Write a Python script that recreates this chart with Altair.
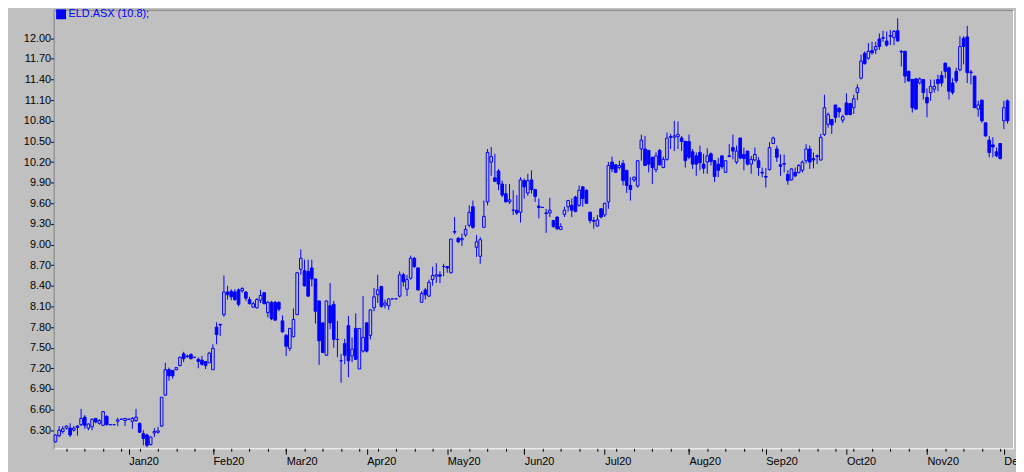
import altair as alt
import pandas as pd

series_name = "ELD.ASX (10.8);"

opens = [
    6.13, 6.22, 6.28, 6.33, 6.33, 6.30, 6.36, 6.38, 6.49, 6.33,
    6.35, 6.47, 6.40, 6.37, 6.50, 6.38, 6.38, 6.43, 6.46, 6.44,
    6.46, 6.43, 6.44, 6.40, 6.25, 6.23, 6.09, 6.26, 6.27, 6.36,
    6.81, 7.18, 7.17, 7.18, 7.24, 7.41, 7.37, 7.40, 7.36, 7.33,
    7.32, 7.30, 7.28, 7.18, 7.80, 7.84, 7.98, 8.31, 8.32, 8.31,
    8.34, 8.33, 8.31, 8.20, 8.09, 8.08, 8.19, 8.30, 8.01, 8.16,
    8.16, 8.16, 7.89, 7.68, 7.49, 7.66, 7.98, 8.64, 8.62, 8.61,
    8.66, 8.50, 8.18, 7.86, 7.39, 8.11, 8.13, 7.62, 7.31, 7.56,
    7.82, 7.38, 7.78, 7.19, 7.45, 7.86, 7.68, 8.08, 8.27, 8.39,
    8.12, 8.11, 8.21, 8.21, 8.25, 8.56, 8.35, 8.51, 8.80, 8.66,
    8.16, 8.34, 8.25, 8.49, 8.54, 8.56, 8.68, 8.68, 8.59, 9.18,
    9.09, 9.07, 9.14, 9.28, 9.55, 8.96, 8.83, 9.25, 9.62, 10.20,
    9.97, 10.07, 9.88, 9.74, 9.62, 9.50, 9.50, 9.47, 9.93, 9.75,
    9.94, 9.80, 9.56, 9.54, 9.46, 9.46, 9.35, 9.40, 9.22, 9.44,
    9.55, 9.57, 9.69, 9.57, 9.84, 9.79, 9.47, 9.35, 9.27, 9.52,
    9.43, 9.62, 10.20, 10.16, 10.12, 10.18, 10.08, 9.86, 9.94, 9.85,
    10.39, 10.39, 10.37, 10.27, 10.09, 10.37, 10.12, 10.24, 10.57, 10.56,
    10.57, 10.55, 10.50, 10.50, 10.35, 10.29, 10.34, 10.17, 10.20, 10.32,
    10.22, 10.17, 10.29, 10.05, 10.29, 10.41, 10.20, 10.55, 10.31, 10.36,
    10.17, 10.23, 10.22, 10.05, 9.99, 10.09, 10.47, 10.39, 10.16, 10.18,
    10.02, 9.94, 10.05, 10.05, 10.08, 10.22, 10.39, 10.25, 10.29, 10.23,
    10.60, 10.75, 10.82, 11.03, 10.98, 10.81, 11.06, 11.05, 10.99, 11.21,
    11.42, 11.78, 11.71, 11.82, 11.83, 11.99, 12.00, 11.96, 12.04, 12.01,
    12.11, 11.81, 11.81, 11.52, 11.40, 11.41, 11.35, 11.40, 11.14, 11.21,
    11.26, 11.40, 11.46, 11.64, 11.57, 11.35, 11.52, 11.54, 12.00, 12.02,
    11.51, 11.45, 10.97, 11.10, 10.77, 10.52, 10.45, 10.35, 10.47, 10.80,
    11.09,
]

highs = [
    6.24, 6.36, 6.36, 6.37, 6.40, 6.36, 6.37, 6.61, 6.52, 6.40,
    6.47, 6.48, 6.46, 6.58, 6.52, 6.38, 6.38, 6.48, 6.46, 6.48,
    6.46, 6.49, 6.61, 6.41, 6.30, 6.25, 6.21, 6.33, 6.35, 6.78,
    7.28, 7.21, 7.17, 7.22, 7.37, 7.44, 7.40, 7.42, 7.36, 7.36,
    7.38, 7.30, 7.44, 7.55, 7.87, 7.84, 8.55, 8.40, 8.35, 8.35,
    8.36, 8.38, 8.32, 8.24, 8.17, 8.22, 8.34, 8.31, 8.18, 8.18,
    8.18, 8.17, 7.97, 7.70, 7.79, 8.07, 8.60, 8.93, 8.78, 8.78,
    8.78, 8.50, 8.18, 7.87, 8.18, 8.44, 8.18, 7.89, 7.41, 7.63,
    7.96, 7.65, 8.00, 7.78, 8.25, 7.87, 8.05, 8.37, 8.56, 8.40,
    8.20, 8.22, 8.21, 8.21, 8.61, 8.59, 8.56, 8.84, 8.82, 8.67,
    8.32, 8.37, 8.49, 8.68, 8.73, 8.61, 8.72, 8.68, 9.08, 9.40,
    9.11, 9.16, 9.28, 9.57, 9.64, 9.14, 9.11, 9.64, 10.39, 10.42,
    10.32, 10.10, 9.93, 9.88, 9.88, 9.79, 9.72, 9.98, 9.96, 10.03,
    10.08, 9.81, 9.67, 9.54, 9.52, 9.68, 9.36, 9.41, 9.31, 9.55,
    9.65, 9.67, 9.71, 9.86, 9.84, 9.80, 9.48, 9.40, 9.43, 9.53,
    9.61, 10.20, 10.28, 10.17, 10.22, 10.23, 10.08, 9.98, 9.99, 10.22,
    10.60, 10.58, 10.37, 10.27, 10.34, 10.39, 10.28, 10.63, 10.61, 10.80,
    10.79, 10.58, 10.51, 10.60, 10.39, 10.34, 10.44, 10.32, 10.40, 10.34,
    10.23, 10.26, 10.29, 10.22, 10.46, 10.60, 10.44, 10.55, 10.41, 10.36,
    10.29, 10.41, 10.27, 10.12, 10.11, 10.49, 10.57, 10.44, 10.31, 10.31,
    10.08, 10.11, 10.12, 10.17, 10.22, 10.46, 10.44, 10.34, 10.31, 10.61,
    11.18, 10.92, 10.82, 11.03, 11.00, 10.89, 11.20, 11.06, 11.18, 11.33,
    11.76, 11.81, 11.93, 11.95, 11.95, 12.07, 12.11, 12.10, 12.12, 12.12,
    12.29, 11.83, 11.82, 11.53, 11.41, 11.42, 11.43, 11.40, 11.27, 11.40,
    11.40, 11.47, 11.52, 11.64, 11.59, 11.42, 11.57, 12.03, 12.03, 12.18,
    11.54, 11.45, 11.09, 11.11, 10.78, 10.58, 10.56, 10.41, 10.47, 11.09,
    11.11,
]

lows = [
    6.12, 6.20, 6.25, 6.31, 6.20, 6.28, 6.22, 6.36, 6.32, 6.30,
    6.30, 6.40, 6.38, 6.36, 6.37, 6.38, 6.38, 6.36, 6.46, 6.36,
    6.46, 6.32, 6.42, 6.26, 6.08, 6.05, 6.08, 6.20, 6.25, 6.35,
    6.80, 7.02, 7.05, 7.17, 7.23, 7.29, 7.35, 7.33, 7.36, 7.20,
    7.24, 7.19, 7.28, 7.18, 7.55, 7.67, 7.95, 8.20, 8.19, 8.18,
    8.10, 8.30, 8.18, 8.13, 8.08, 8.07, 8.15, 8.13, 7.94, 7.90,
    7.90, 8.03, 7.72, 7.38, 7.45, 7.65, 7.98, 8.56, 8.39, 8.24,
    8.39, 7.85, 7.25, 7.42, 7.38, 7.77, 7.50, 7.36, 6.99, 7.26,
    7.07, 7.29, 7.33, 7.19, 7.43, 7.43, 7.62, 8.03, 8.15, 8.08,
    8.07, 8.05, 8.21, 8.21, 8.23, 8.39, 8.25, 8.49, 8.66, 8.33,
    8.15, 8.20, 8.24, 8.40, 8.44, 8.44, 8.54, 8.59, 8.58, 9.15,
    9.02, 8.98, 9.11, 9.25, 9.23, 8.82, 8.72, 9.25, 9.57, 10.00,
    9.91, 9.79, 9.69, 9.62, 9.59, 9.43, 9.43, 9.32, 9.67, 9.71,
    9.74, 9.62, 9.38, 9.54, 9.17, 9.40, 9.25, 9.21, 9.21, 9.40,
    9.48, 9.40, 9.47, 9.55, 9.55, 9.59, 9.31, 9.23, 9.26, 9.38,
    9.40, 9.52, 10.05, 10.04, 10.09, 9.86, 9.75, 9.64, 9.91, 9.83,
    10.22, 10.15, 10.05, 9.88, 10.05, 10.15, 10.11, 10.22, 10.39, 10.36,
    10.39, 10.36, 10.12, 10.24, 10.10, 10.00, 10.08, 10.03, 10.03, 10.15,
    9.91, 9.98, 10.10, 10.05, 10.27, 10.24, 10.17, 10.24, 10.08, 10.15,
    10.03, 10.21, 10.00, 9.98, 9.83, 10.08, 10.46, 10.20, 10.00, 10.05,
    9.87, 9.93, 9.98, 10.03, 10.05, 10.18, 10.10, 10.11, 10.17, 10.22,
    10.58, 10.70, 10.61, 10.77, 10.85, 10.77, 10.88, 10.89, 10.90, 11.10,
    11.40, 11.62, 11.69, 11.76, 11.77, 11.83, 11.95, 11.88, 11.90, 11.90,
    11.96, 11.59, 11.35, 11.37, 10.92, 10.96, 11.33, 11.11, 10.85, 11.09,
    11.21, 11.23, 11.30, 11.42, 11.11, 11.18, 11.35, 11.52, 11.62, 11.35,
    11.33, 10.99, 10.86, 10.77, 10.57, 10.27, 10.27, 10.27, 10.24, 10.68,
    10.76,
]

closes = [
    6.23, 6.30, 6.32, 6.36, 6.23, 6.33, 6.34, 6.47, 6.37, 6.39,
    6.46, 6.42, 6.44, 6.57, 6.38, 6.38, 6.38, 6.45, 6.46, 6.47,
    6.46, 6.47, 6.49, 6.27, 6.18, 6.08, 6.20, 6.28, 6.29, 6.78,
    7.18, 7.09, 7.09, 7.21, 7.36, 7.34, 7.38, 7.34, 7.36, 7.30,
    7.26, 7.24, 7.42, 7.49, 7.69, 7.83, 8.31, 8.27, 8.24, 8.20,
    8.13, 8.36, 8.22, 8.14, 8.14, 8.20, 8.26, 8.14, 8.16, 7.92,
    7.90, 8.06, 7.73, 7.52, 7.78, 7.91, 8.59, 8.80, 8.40, 8.25,
    8.50, 8.03, 7.60, 7.43, 8.18, 7.86, 7.62, 7.62, 7.31, 7.39,
    7.31, 7.48, 7.33, 7.78, 7.65, 7.45, 8.05, 8.24, 8.34, 8.10,
    8.15, 8.21, 8.21, 8.21, 8.56, 8.46, 8.49, 8.80, 8.68, 8.34,
    8.29, 8.27, 8.45, 8.55, 8.56, 8.54, 8.68, 8.66, 9.08, 9.19,
    9.04, 9.09, 9.22, 9.47, 9.25, 9.04, 9.07, 9.41, 10.34, 10.28,
    9.92, 9.88, 9.72, 9.62, 9.65, 9.50, 9.46, 9.94, 9.84, 9.93,
    9.80, 9.70, 9.54, 9.54, 9.45, 9.50, 9.26, 9.23, 9.26, 9.50,
    9.64, 9.50, 9.48, 9.79, 9.67, 9.60, 9.35, 9.34, 9.36, 9.40,
    9.60, 10.15, 10.10, 10.05, 10.15, 9.93, 9.86, 9.80, 9.98, 10.22,
    10.52, 10.15, 10.17, 10.12, 10.29, 10.16, 10.24, 10.55, 10.56, 10.58,
    10.60, 10.50, 10.22, 10.27, 10.17, 10.17, 10.19, 10.11, 10.29, 10.21,
    9.99, 10.08, 10.13, 10.22, 10.28, 10.36, 10.36, 10.26, 10.25, 10.17,
    10.24, 10.31, 10.12, 10.04, 9.98, 10.41, 10.55, 10.27, 10.14, 10.17,
    9.93, 10.10, 10.00, 10.15, 10.20, 10.39, 10.20, 10.23, 10.28, 10.56,
    10.99, 10.89, 10.74, 10.85, 10.93, 10.86, 10.89, 10.89, 11.12, 11.28,
    11.67, 11.63, 11.81, 11.79, 11.88, 11.88, 12.01, 11.90, 12.03, 12.10,
    11.96, 11.80, 11.45, 11.38, 10.99, 10.97, 11.41, 11.21, 11.06, 11.30,
    11.30, 11.34, 11.35, 11.52, 11.23, 11.21, 11.38, 11.88, 11.88, 11.50,
    11.50, 10.99, 11.03, 10.80, 10.58, 10.34, 10.42, 10.29, 10.25, 10.99,
    10.80,
]

y_ticks = [6.30, 6.60, 6.90, 7.20, 7.50, 7.80, 8.10, 8.40, 8.70, 9.00,
           9.30, 9.60, 9.90, 10.20, 10.50, 10.80, 11.10, 11.40, 11.70, 12.00]

# trading-day axis: every weekday (holidays shown as flat candles)
dates = pd.bdate_range("2019-12-04", periods=len(closes))
n = len(closes)

df = pd.DataFrame({
    "idx": list(range(n)),
    "date": dates.strftime("%Y-%m-%d"),
    "open": opens, "high": highs, "low": lows, "close": closes,
    "series": series_name,
})

month_idx = [i for i in range(1, n) if dates[i].month != dates[i - 1].month]
month_labels = [dates[i].strftime("%b%y") for i in month_idx]
monday_idx = [i for i in range(n) if dates[i].weekday() == 0]

label_expr = "[{}][indexof([{}], datum.value)]".format(
    ",".join("'" + s + "'" for s in month_labels),
    ",".join(str(v) for v in month_idx),
)

BLUE = "#0000FF"
BG = "#C0C0C0"
FONT = "Liberation Sans"

xscale = alt.Scale(domain=[-0.5, n + 0.5], nice=False, zero=False)
yscale = alt.Scale(domain=[6.036, 12.414], nice=False, zero=False)

base = alt.Chart(df)

wicks = base.mark_rule(strokeWidth=1).encode(
    x=alt.X("idx:Q", scale=xscale, axis=alt.Axis(
        orient="bottom", values=month_idx, labelExpr=label_expr,
        tickSize=6, tickColor="#000000", domainColor="#FFFFFF", domainWidth=1,
        labelAlign="left", labelBaseline="top", labelPadding=1,
        labelFont=FONT, labelFontSize=11, labelColor="#000000",
        labelOverlap=False, labelBound=False, labelFlush=False,
        grid=False, title=None)),
    y=alt.Y("low:Q", scale=yscale, axis=alt.Axis(
        orient="left", values=y_ticks, format=".2f",
        tickSize=3, tickColor="#000000", domainColor="#808080",
        labelPadding=0, labelFont=FONT, labelFontSize=11, labelColor="#000000",
        labelOverlap=False, labelBound=False, labelFlush=False,
        grid=False, title=None)),
    y2="high:Q",
    color=alt.Color("series:N",
                    scale=alt.Scale(domain=[series_name], range=[BLUE]),
                    legend=alt.Legend(orient="none", legendX=2, legendY=-1,
                                      title=None, symbolType="square",
                                      symbolSize=100, symbolFillColor=BLUE,
                                      symbolStrokeWidth=0, labelColor=BLUE,
                                      labelFont=FONT, labelFontSize=11,
                                      labelOffset=2, padding=0)),
)

bodies = base.transform_calculate(
    x0="datum.idx - 0.36", x1="datum.idx + 0.36"
).mark_bar(stroke=BLUE, strokeWidth=1).encode(
    x=alt.X("x0:Q", scale=xscale, axis=alt.Axis(
        orient="bottom", values=monday_idx, labels=False, tickSize=3,
        tickColor="#000000", domain=False, grid=False, title=None)),
    x2="x1:Q",
    y=alt.Y("open:Q", scale=yscale, axis=alt.Axis(
        orient="right", domainColor="#FFFFFF", ticks=False, labels=False,
        grid=False, title=None)),
    y2="close:Q",
    fill=alt.condition("datum.close < datum.open", alt.value(BLUE), alt.value(BG)),
)

frame = base.mark_point(opacity=0, size=1).encode(
    x=alt.X("idx:Q", scale=xscale, axis=alt.Axis(
        orient="top", domainColor="#808080", ticks=False, labels=False,
        grid=False, title=None)),
    y=alt.Y("close:Q", scale=yscale, axis=None),
)

chart = alt.layer(wicks, bodies, frame).resolve_axis(
    x="independent", y="independent"
).properties(
    width=967, height=442,
    autosize=alt.AutoSizeParams(type="none"),
    padding={"left": 46, "top": 0, "right": 3, "bottom": 22},
    background=BG,
).configure_view(stroke=None, fill=BG)

chart.save("out.html", embed_options={"renderer": "svg", "actions": False})
